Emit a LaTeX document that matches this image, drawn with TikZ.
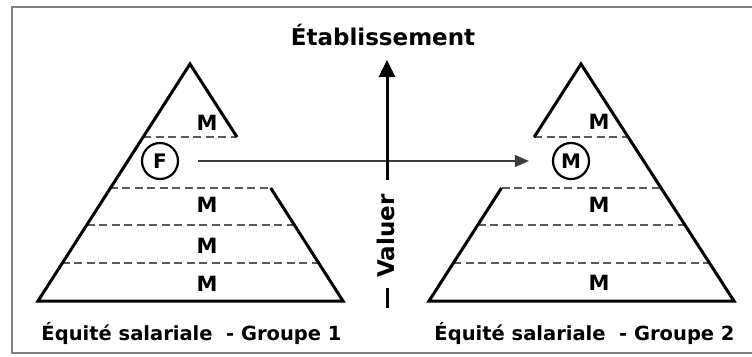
\documentclass[tikz,border=0pt]{standalone}
\usepackage{fontspec}
\setmainfont{DejaVu Sans}
\usetikzlibrary{arrows.meta}
\definecolor{dashgray}{RGB}{90,90,90}
\definecolor{framegray}{RGB}{128,128,128}
\definecolor{arrowgray}{RGB}{60,60,60}
\begin{document}
\begin{tikzpicture}[x=1pt,y=-1pt,
  edge/.style={line width=3pt},
  level/.style={draw=dashgray, line width=1.4pt, dash pattern=on 8pt off 4.5pt},
  lab/.style={font=\bfseries\fontsize{21}{21}\selectfont, inner sep=0pt},
  circ/.style={circle, draw, line width=2.2pt, minimum size=36pt, inner sep=0pt,
    font=\bfseries\fontsize{20}{20}\selectfont},
  frame/.style={draw=framegray, line width=1.6pt},
  harrow/.style={draw=arrowgray, line width=1.4pt, -{Triangle[length=14pt,width=12pt]}},
  varrow/.style={line width=3pt, -{Triangle[length=17pt,width=16pt]}},
  caption/.style={font=\bfseries\fontsize{19.5}{19.5}\selectfont, inner sep=0pt},
  title/.style={font=\bfseries\fontsize{23}{23}\selectfont, inner sep=0pt}
]
\useasboundingbox (0,0) rectangle (752,356);
\fill[white] (0,0) rectangle (752,356);
\draw[frame] (760,7) -- (12,7) -- (12,353) -- (760,353);

% title
\node[title] (title) at (383,35) {Établissement};

% left pyramid
\draw[level] (143.2,137) -- (237,137);
\draw[level] (109.8,188) -- (270,188);
\draw[level] (86.7,225) -- (294,225);
\draw[level] (61.7,263) -- (319,263);
\draw[edge] (237,137) -- (190,64) -- (38,301) -- (343,301) -- (270.7,188);
\node[lab] (l1) at (207,123) {M};
\node[circ] (F) at (160,161) {F};
\node[lab] (l3) at (207,205) {M};
\node[lab] (l4) at (207,246) {M};
\node[lab] (l5) at (207,284) {M};

% right pyramid
\draw[level] (534.2,137) -- (628,137);
\draw[level] (501.5,188) -- (661,188);
\draw[level] (477.7,225) -- (685,225);
\draw[level] (453.4,263) -- (709.5,263);
\draw[edge] (534.2,137) -- (581,64) -- (734,301) -- (429,301) -- (501.5,188);
\node[lab] (r1) at (599,122) {M};
\node[circ] (Mc) at (571,161) {M};
\node[lab] (r3) at (599,205) {M};
\node[lab] (r5) at (599,283) {M};

% horizontal arrow
\draw[harrow] ([xshift=19pt]F.east) -- ([xshift=-23pt]Mc.west);

% vertical axis
\node[title, rotate=90] (val) at (386,236) {Valuer};
\coordinate (vtop) at (387,60);
\coordinate (vmid) at (387,180);
\coordinate (vb1) at (387,288);
\coordinate (vb2) at (387,308);
\draw[varrow] (vmid) -- (vtop);
\draw[line width=3pt] (vb1) -- (vb2);

% captions
\node[caption] (c1) at (191.5,333) {Équité salariale \ - Groupe 1};
\node[caption] (c2) at (584.5,333) {Équité salariale \ - Groupe 2};
\end{tikzpicture}
\end{document}
